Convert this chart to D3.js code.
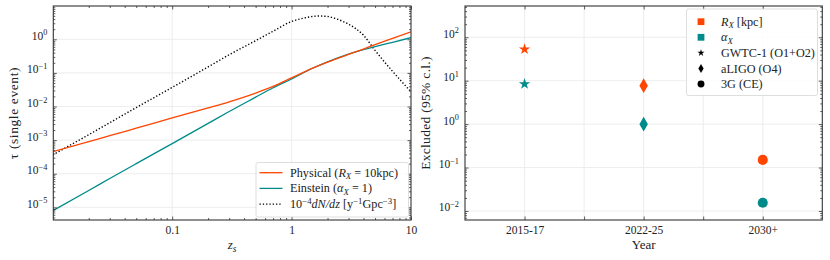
<!DOCTYPE html>
<html>
<head>
<meta charset="utf-8">
<script src="https://cdn.jsdelivr.net/npm/d3@7"></script>
<style>
  body { margin: 0; background: #fff; }
  svg text { font-family: "Liberation Serif", "Times New Roman", serif; fill: #222; }
</style>
</head>
<body>
<div id="chart"></div>
<script>
// left panel: optical depth vs source redshift
const zs = [0.01, 0.02, 0.03, 0.05, 0.1, 0.2, 0.3, 0.5, 0.7, 1, 1.5, 2, 3, 4, 5, 7, 10];
const tauPhysical = [4.52e-4, 9.1e-4, 1.35e-3, 2.26e-3, 4.57e-3, 9.1e-3, 1.38e-2, 2.51e-2, 3.98e-2,
  7.1e-2, 0.138, 0.209, 0.355, 0.513, 0.692, 1.07, 1.68];
const tauEinstein = [7.9e-6, 3.16e-5, 7.2e-5, 2.0e-4, 7.9e-4, 3.16e-3, 7.1e-3, 1.9e-2, 3.63e-2,
  6.6e-2, 0.138, 0.214, 0.363, 0.49, 0.603, 0.813, 1.12];
const zsRate = [0.01, 0.02, 0.03, 0.05, 0.1, 0.2, 0.3, 0.5, 0.7, 1, 1.3, 1.5, 1.7, 2, 2.3, 2.7, 3, 4, 5, 7, 10];
const rate = [3.63e-4, 1.45e-3, 3.3e-3, 9.3e-3, 3.7e-2, 0.151, 0.347, 0.912, 1.74, 3.39, 4.37, 4.79,
  4.93, 4.79, 4.22, 3.39, 2.82, 1.32, 0.468, 0.112, 0.0275];
const xTicksLeft = [0.1, 1, 10];
const xTickLabelsLeft = ["0.1", "1", "10"];
const yExpLeft = [-5, -4, -3, -2, -1, 0];

// right panel: exclusion limits per observing period
const periods = ["2015-17", "2022-25", "2030+"];
const excludedRx = [53, 7.7, 0.15];
const excludedAlpha = [8.4, 1.0, 0.0155];
const periodSymbols = [d3.symbolStar, d3.symbolDiamond, d3.symbolCircle];
const symbolSizes = [40, 62, 80];
const yExpRight = [-2, -1, 0, 1, 2];

const orange = "#ff4500", teal = "#008b8b";
const W = 830, H = 260;

const svg = d3.select("#chart").append("svg")
  .attr("width", W).attr("height", H);

// write text with italic / sub / superscript pieces
function rich(sel, parts) {
  let off = 0;
  parts.forEach(p => {
    const target = p.sup ? -4.5 : p.sub ? 2.5 : 0;
    const ts = sel.append("tspan").attr("dy", target - off).text(p.t);
    if (p.sup || p.sub) ts.attr("font-size", "0.72em");
    if (p.i) ts.attr("font-style", "italic");
    off = target;
  });
}

function powerLabel(k) {
  return [{t: "10"}, {t: (k < 0 ? "\u2212" : "") + Math.abs(k), sup: true}];
}

function minorLog(domain) {
  const out = [];
  for (let k = -8; k <= 3; k++)
    for (let m = 2; m <= 9; m++) {
      const v = m * Math.pow(10, k);
      if (v > domain[0] && v < domain[1]) out.push(v);
    }
  return out;
}

function frame(g, x, y) {
  const [x0, x1] = x.range(), [y0, y1] = y.range();
  g.append("rect")
    .attr("x", x0).attr("y", y1)
    .attr("width", x1 - x0).attr("height", y0 - y1)
    .attr("fill", "none").attr("stroke", "#333").attr("stroke-width", 1.1);
}

function grid(g, x, y, xs, ys) {
  const [x0, x1] = x.range(), [y0, y1] = y.range();
  g.append("g").selectAll("line.v").data(xs).join("line")
    .attr("x1", d => x(d)).attr("x2", d => x(d))
    .attr("y1", y0).attr("y2", y1);
  g.append("g").selectAll("line.h").data(ys).join("line")
    .attr("x1", x0).attr("x2", x1)
    .attr("y1", d => y(d)).attr("y2", d => y(d));
  g.selectAll("line").attr("stroke", "#e8e8e8").attr("stroke-width", 0.8);
}

// inward ticks on all four sides
function ticks(g, x, y, xMajor, xMinor, yMajor, yMinor) {
  const [x0, x1] = x.range(), [y0, y1] = y.range();
  const put = (axis, tx, ty) => {
    const a = g.append("g").attr("transform", `translate(${tx},${ty})`).call(axis);
    a.select(".domain").remove();
    a.selectAll("line").attr("stroke", "#333").attr("stroke-width", 0.8);
    return a;
  };
  const bottom = put(d3.axisBottom(x).tickValues(xMajor).tickSize(-3.5).tickPadding(6), 0, y0);
  put(d3.axisBottom(x).tickValues(xMinor).tickSize(-2).tickFormat(""), 0, y0);
  put(d3.axisTop(x).tickValues(xMajor).tickSize(-3.5).tickFormat(""), 0, y1);
  put(d3.axisTop(x).tickValues(xMinor).tickSize(-2).tickFormat(""), 0, y1);
  const left = put(d3.axisLeft(y).tickValues(yMajor).tickSize(-3.5).tickPadding(6), x0, 0);
  put(d3.axisLeft(y).tickValues(yMinor).tickSize(-2).tickFormat(""), x0, 0);
  put(d3.axisRight(y).tickValues(yMajor).tickSize(-3.5).tickFormat(""), x1, 0);
  put(d3.axisRight(y).tickValues(yMinor).tickSize(-2).tickFormat(""), x1, 0);
  [bottom, left].forEach(a => a.selectAll("text")
    .attr("font-family", null).attr("font-size", 11.5).attr("fill", "#222"));
  return {bottom, left};
}

// ---------- left panel ----------
const xL = d3.scaleLog().domain([0.0101, 10]).range([53.3, 411]);
const yL = d3.scaleLog().domain([4.2e-6, 9.8]).range([220, 6]);
const gL = svg.append("g");
const yMajorL = yExpLeft.map(k => Math.pow(10, k));

grid(gL, xL, yL, [0.1, 1], yMajorL);

svg.append("clipPath").attr("id", "clipL").append("rect")
  .attr("x", 53.3).attr("y", 6).attr("width", 411 - 53.3).attr("height", 214);

const lineL = (xs, ys) => d3.line().x((d, i) => xL(xs[i])).y(d => yL(d)).curve(d3.curveMonotoneX)(ys);
const curves = gL.append("g").attr("clip-path", "url(#clipL)").attr("fill", "none");
curves.append("path").attr("d", lineL(zsRate, rate))
  .attr("stroke", "#000").attr("stroke-width", 1.4).attr("stroke-dasharray", "1.3,2.0");
curves.append("path").attr("d", lineL(zs, tauEinstein))
  .attr("stroke", teal).attr("stroke-width", 1.3);
curves.append("path").attr("d", lineL(zs, tauPhysical))
  .attr("stroke", orange).attr("stroke-width", 1.3);

const axL = ticks(gL, xL, yL, xTicksLeft, minorLog(xL.domain()), yMajorL, minorLog(yL.domain()));
axL.bottom.selectAll("text").text((d, i) => xTickLabelsLeft[i]);
axL.left.selectAll("text").text("").each(function (d, i) { rich(d3.select(this), powerLabel(yExpLeft[i])); });
frame(gL, xL, yL);

// legend left
const legL = gL.append("g");
legL.append("rect").attr("x", 256).attr("y", 162.5).attr("width", 152.5).attr("height", 54.5)
  .attr("rx", 2).attr("fill", "#fff").attr("fill-opacity", 0.85)
  .attr("stroke", "#d5d5d5").attr("stroke-width", 0.8);
const legItemsL = [
  {c: orange, dash: null, parts: [{t: "Physical ("}, {t: "R", i: true}, {t: "X", i: true, sub: true}, {t: " = 10kpc)"}]},
  {c: teal, dash: null, parts: [{t: "Einstein ("}, {t: "\u03b1", i: true}, {t: "X", i: true, sub: true}, {t: " = 1)"}]},
  {c: "#000", dash: "1.3,2.0", parts: [{t: "10"}, {t: "\u22124", sup: true}, {t: "dN/dz", i: true}, {t: " [y"},
    {t: "\u22121", sup: true}, {t: "Gpc"}, {t: "\u22123", sup: true}, {t: "]"}]}
];
legItemsL.forEach((it, i) => {
  const yy = 172.7 + i * 15.7;
  legL.append("line").attr("x1", 259.5).attr("x2", 282.5).attr("y1", yy).attr("y2", yy)
    .attr("stroke", it.c).attr("stroke-width", it.dash ? 1.4 : 1.3).attr("stroke-dasharray", it.dash);
  rich(legL.append("text").attr("x", 290).attr("y", yy + 4).attr("font-size", 12.2), it.parts);
});

rich(svg.append("text").attr("x", 232).attr("y", 249).attr("text-anchor", "middle").attr("font-size", 13),
  [{t: "z", i: true}, {t: "s", i: true, sub: true}]);
svg.append("text").attr("transform", "translate(17.5,113) rotate(-90)").attr("text-anchor", "middle")
  .attr("font-size", 13.5).attr("letter-spacing", 0.6).text("\u03c4 (single event)");

// ---------- right panel ----------
const xR = d3.scaleLinear().domain([-0.5, 2.5]).range([465, 822.3]);
const yR = d3.scaleLog().domain([0.0062, 525]).range([220, 6]);
const gR = svg.append("g");
const yMajorR = yExpRight.map(k => Math.pow(10, k));

grid(gR, xR, yR, [0, 0.5, 1, 1.5, 2], yMajorR);

const pts = gR.append("g");
[[excludedRx, orange], [excludedAlpha, teal]].forEach(([vals, col]) => {
  pts.selectAll(null).data(vals).join("path")
    .attr("transform", (d, i) => `translate(${xR(i)},${yR(d)})`)
    .attr("d", (d, i) => d3.symbol(periodSymbols[i], symbolSizes[i])())
    .attr("fill", col);
});

const axR = ticks(gR, xR, yR, [0, 0.5, 1, 1.5, 2], [], yMajorR, minorLog(yR.domain()));
axR.bottom.selectAll("text").text(d => Number.isInteger(d) ? periods[d] : "");
axR.left.selectAll("text").text("").each(function (d, i) { rich(d3.select(this), powerLabel(yExpRight[i])); });
frame(gR, xR, yR);

// legend right
const legR = gR.append("g");
legR.append("rect").attr("x", 686.5).attr("y", 9).attr("width", 131).attr("height", 86.5)
  .attr("rx", 2).attr("fill", "#fff").attr("fill-opacity", 0.85)
  .attr("stroke", "#d5d5d5").attr("stroke-width", 0.8);
const legItemsR = [
  {sym: d3.symbolSquare, size: 46, c: orange, parts: [{t: "R", i: true}, {t: "X", i: true, sub: true}, {t: " [kpc]"}]},
  {sym: d3.symbolSquare, size: 46, c: teal, parts: [{t: "\u03b1", i: true}, {t: "X", i: true, sub: true}]},
  {sym: d3.symbolStar, size: 16, c: "#000", parts: [{t: "GWTC-1 (O1+O2)"}]},
  {sym: d3.symbolDiamond, size: 24, c: "#000", parts: [{t: "aLIGO (O4)"}]},
  {sym: d3.symbolCircle, size: 38, c: "#000", parts: [{t: "3G (CE)"}]}
];
legItemsR.forEach((it, i) => {
  const yy = 21.7 + i * 15.6;
  legR.append("path").attr("transform", `translate(701,${yy})`)
    .attr("d", d3.symbol(it.sym, it.size)()).attr("fill", it.c);
  rich(legR.append("text").attr("x", 721).attr("y", yy + 4).attr("font-size", 12.2), it.parts);
});

svg.append("text").attr("x", 643.7).attr("y", 249).attr("text-anchor", "middle")
  .attr("font-size", 13).text("Year");
svg.append("text").attr("transform", "translate(429.5,113) rotate(-90)").attr("text-anchor", "middle")
  .attr("font-size", 13.5).attr("letter-spacing", 0.3).text("Excluded (95% c.l.)");
</script>
</body>
</html>
